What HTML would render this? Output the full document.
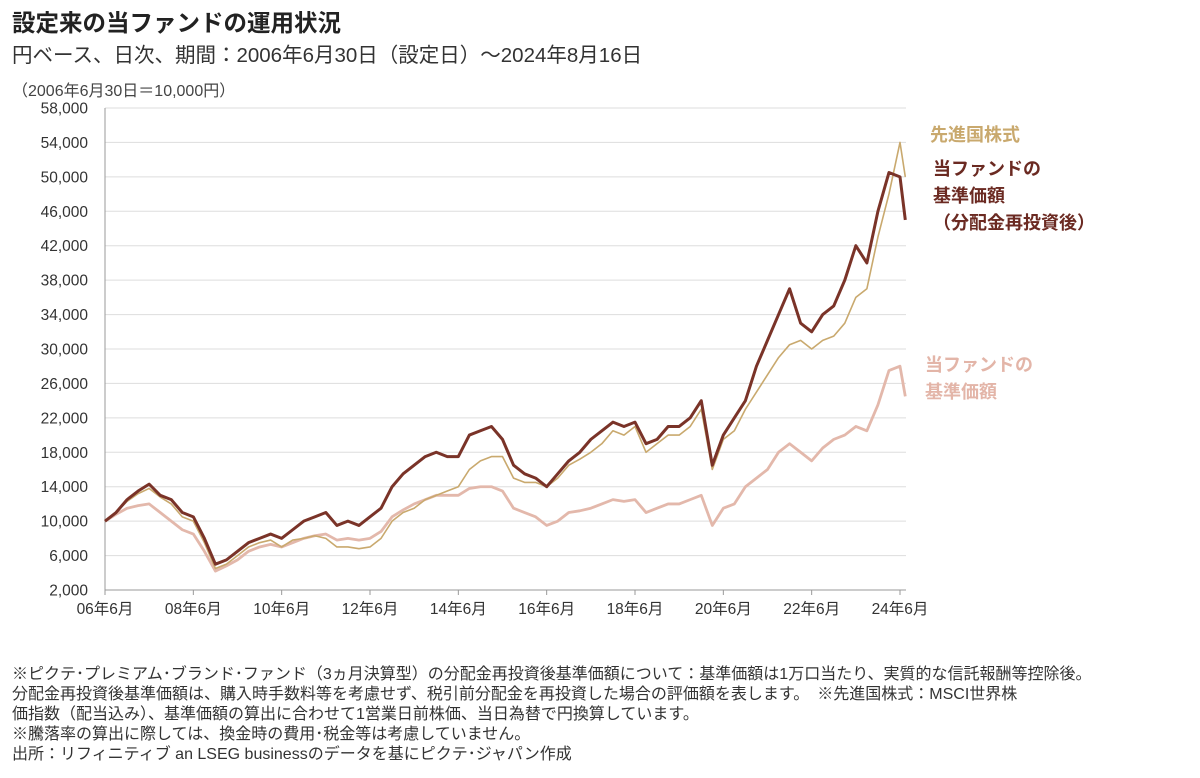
<!DOCTYPE html>
<html><head><meta charset="utf-8"><style>
body{margin:0;background:#fff;width:1200px;height:778px;overflow:hidden;font-family:"Liberation Sans","Noto Sans CJK JP",sans-serif;color:#333}
.t{position:absolute;white-space:nowrap}
</style></head><body>
<div class="t" style="left:12px;top:4px;font-size:23.5px;font-weight:bold;color:#222">設定来の当ファンドの運用状況</div>
<div class="t" style="left:12px;top:38px;font-size:20.5px;color:#333">円ベース、日次、期間：2006年6月30日（設定日）～2024年8月16日</div>
<div class="t" style="left:12px;top:77px;font-size:16px;color:#444">（2006年6月30日＝10,000円）</div>
<svg id="chart" width="1200" height="640" style="position:absolute;left:0;top:0"></svg>
<div class="t" style="left:930px;top:121px;font-size:18px;font-weight:bold;color:#c9a96e">先進国株式</div>
<div class="t" style="left:933px;top:156px;font-size:18px;font-weight:bold;color:#6b2a22;line-height:27px">当ファンドの<br>基準価額<br>（分配金再投資後）</div>
<div class="t" style="left:925px;top:352px;font-size:18px;font-weight:bold;color:#e3b5a8;line-height:27px">当ファンドの<br>基準価額</div>
<div class="t" style="left:12px;top:665px;font-size:16px;color:#333;line-height:20px">※ピクテ･プレミアム･ブランド･ファンド（3ヵ月決算型）の分配金再投資後基準価額について：基準価額は1万口当たり、実質的な信託報酬等控除後。<br>分配金再投資後基準価額は、購入時手数料等を考慮せず、税引前分配金を再投資した場合の評価額を表します。　※先進国株式：MSCI世界株<br>価指数（配当込み）、基準価額の算出に合わせて1営業日前株価、当日為替で円換算しています。<br>※騰落率の算出に際しては、換金時の費用･税金等は考慮していません。<br>出所：リフィニティブ an LSEG businessのデータを基にピクテ･ジャパン作成</div>
<script>
const dates=[2006.5,2006.75,2007,2007.25,2007.5,2007.75,2008,2008.25,2008.5,2008.75,2009,2009.25,2009.5,2009.75,2010,2010.25,2010.5,2010.75,2011,2011.25,2011.5,2011.75,2012,2012.25,2012.5,2012.75,2013,2013.25,2013.5,2013.75,2014,2014.25,2014.5,2014.75,2015,2015.25,2015.5,2015.75,2016,2016.25,2016.5,2016.75,2017,2017.25,2017.5,2017.75,2018,2018.25,2018.5,2018.75,2019,2019.25,2019.5,2019.75,2020,2020.25,2020.5,2020.75,2021,2021.25,2021.5,2021.75,2022,2022.25,2022.5,2022.75,2023,2023.25,2023.5,2023.75,2024,2024.25,2024.5,2024.62];
const msci=[10000,11000,12300,13200,13800,12800,12000,10500,10000,7500,4500,5000,6000,7000,7500,7800,7000,7800,8000,8300,8000,7000,7000,6800,7000,8000,10000,11000,11500,12500,13000,13500,14000,16000,17000,17500,17500,15000,14500,14500,14000,15000,16500,17200,18000,19000,20500,20000,21000,18000,19000,20000,20000,21000,23000,16000,19500,20500,23000,25000,27000,29000,30500,31000,30000,31000,31500,33000,36000,37000,43000,48000,54000,50000];
const nav=[10000,10800,11500,11800,12000,11000,10000,9000,8500,6500,4200,4800,5500,6500,7000,7300,7000,7500,8000,8300,8500,7800,8000,7800,8000,8800,10500,11300,12000,12500,13000,13000,13000,13800,14000,14000,13500,11500,11000,10500,9500,10000,11000,11200,11500,12000,12500,12300,12500,11000,11500,12000,12000,12500,13000,9500,11500,12000,14000,15000,16000,18000,19000,18000,17000,18500,19500,20000,21000,20500,23500,27500,28000,24500];
const reinvest=[10000,11000,12500,13500,14300,13000,12500,11000,10500,8000,5000,5500,6500,7500,8000,8500,8000,9000,10000,10500,11000,9500,10000,9500,10500,11500,14000,15500,16500,17500,18000,17500,17500,20000,20500,21000,19500,16500,15500,15000,14000,15500,17000,18000,19500,20500,21500,21000,21500,19000,19500,21000,21000,22000,24000,16500,20000,22000,24000,28000,31000,34000,37000,33000,32000,34000,35000,38000,42000,40000,46000,50500,50000,45000];
const yTicks=[2000,6000,10000,14000,18000,22000,26000,30000,34000,38000,42000,46000,50000,54000,58000];
const xTickYears=[2006.5,2008.5,2010.5,2012.5,2014.5,2016.5,2018.5,2020.5,2022.5,2024.5];
const xTickLabels=["06年6月","08年6月","10年6月","12年6月","14年6月","16年6月","18年6月","20年6月","22年6月","24年6月"];
const svg=document.getElementById('chart');const NS='http://www.w3.org/2000/svg';
const X0=105,X1=900,Y0=590,Y1=108;
const xs=t=>X0+(t-2006.5)/(18)*(X1-X0);
const ys=v=>Y0-(v-2000)/(56000)*(Y0-Y1);
function mk(tag,a){const e=document.createElementNS(NS,tag);for(const k in a)e.setAttribute(k,a[k]);svg.appendChild(e);return e;}
yTicks.forEach((v,i)=>{
 const g=mk('line',{x1:X0,x2:906,y1:ys(v),y2:ys(v),stroke:i==0?'#999':'#ddd','stroke-width':1});
 
 
 const t=mk('text',{x:88,y:ys(v)+5.5,'text-anchor':'end','font-size':15.5,fill:'#333','font-family':'Liberation Sans, sans-serif'});
 t.textContent=v.toLocaleString('en-US');
 
 
});
const ax=mk('line',{x1:X0,x2:X0,y1:Y1,y2:Y0,stroke:'#999'});


xTickYears.forEach((d,i)=>{
 const tk=mk('line',{x1:xs(d),x2:xs(d),y1:Y0,y2:Y0+5,stroke:'#999'});
 
 
 const t=mk('text',{x:xs(d),y:Y0+24,'text-anchor':'middle','font-size':15.5,fill:'#333','font-family':'Liberation Sans, Noto Sans CJK JP, sans-serif'});
 t.textContent=xTickLabels[i];
 
 
});
function line(vals,color,w,name){
 const p=mk('polyline',{points:vals.map((v,i)=>xs(dates[i])+','+ys(v)).join(' '),fill:'none',stroke:color,'stroke-width':w,'stroke-linejoin':'round'});
 
 
}
line(nav,'#e3b8ab',2.8,'series-fund-nav');
line(msci,'#c9a96e',1.6,'series-msci-world');
line(reinvest,'#7a3328',3,'series-fund-reinvested');
</script>
</body></html>
